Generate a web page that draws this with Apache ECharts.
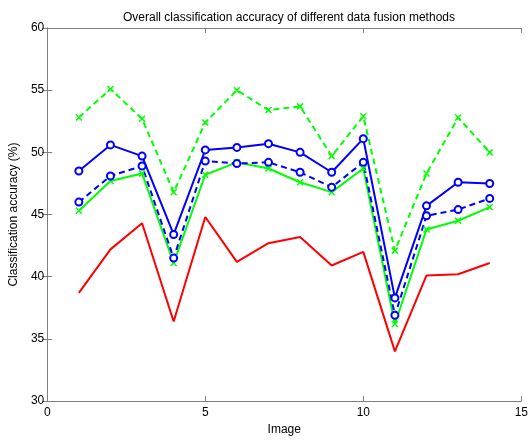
<!DOCTYPE html>
<html>
<head>
<meta charset="utf-8">
<script src="https://cdn.jsdelivr.net/npm/echarts@6/dist/echarts.min.js"></script>
<style>
  html, body { margin: 0; padding: 0; background: #fff; }
  #chart { width: 531px; height: 441px; }
</style>
</head>
<body>
<div id="chart"></div>
<script>
var images = [1, 2, 3, 4, 5, 6, 7, 8, 9, 10, 11, 12, 13, 14];
var greenDashed = [52.8, 55.1, 52.7, 46.8, 52.4, 55.0, 53.4, 53.7, 49.7, 52.9, 42.1, 48.3, 52.8, 50.0];
var blueSolid = [48.5, 50.6, 49.7, 43.4, 50.2, 50.4, 50.7, 50.0, 48.4, 51.1, 38.3, 45.7, 47.6, 47.5];
var blueDashed = [46.0, 48.1, 48.9, 41.5, 49.3, 49.1, 49.2, 48.4, 47.2, 49.2, 36.9, 44.9, 45.4, 46.3];
var greenSolid = [45.3, 47.7, 48.3, 41.1, 48.2, 49.2, 48.7, 47.6, 46.8, 48.7, 36.2, 43.8, 44.5, 45.6];
var redSolid = [38.7, 42.2, 44.3, 36.4, 44.8, 41.2, 42.7, 43.2, 40.9, 42.0, 34.0, 40.1, 40.2, 41.1];

function pairs(vals) {
  return vals.map(function (v, i) { return [images[i], v]; });
}

var cross = 'path://M0,0L10,10M10,0L0,10';
var font = 'Liberation Sans';

function mkSeries(vals, color, dashed, marker) {
  var s = {
    type: 'line',
    data: pairs(vals),
    lineStyle: { color: color, width: 2, type: dashed ? [6, 4] : 'solid' },
    symbol: 'none',
    z: 2
  };
  if (marker === 'x') {
    s.symbol = cross;
    s.symbolSize = 6;
    s.itemStyle = { color: 'transparent', borderColor: color, borderWidth: 1.5 };
  } else if (marker === 'o') {
    s.symbol = 'emptyCircle';
    s.symbolSize = 7;
    s.itemStyle = { color: color, borderColor: color, borderWidth: 2 };
  }
  return s;
}

var myChart = echarts.init(document.getElementById('chart'));
var axisColor = '#808080';
var option = {
  animation: false,
  backgroundColor: '#fff',
  title: {
    text: 'Overall classification accuracy of different data fusion methods',
    left: 284,
    top: 7,
    textAlign: 'center',
    textStyle: { fontFamily: font, fontSize: 12, fontWeight: 'normal', color: '#000' }
  },
  grid: { left: 44, right: 8, top: 28, bottom: 34 },
  xAxis: [{
    type: 'value', min: 0, max: 15, interval: 5,
    name: 'Image', nameLocation: 'middle', nameGap: 22,
    nameTextStyle: { fontFamily: font, fontSize: 12, color: '#000' },
    axisLine: { lineStyle: { color: axisColor, width: 1 } },
    axisTick: { inside: true, length: 5, lineStyle: { color: axisColor } },
    axisLabel: { fontFamily: font, fontSize: 12, color: '#000', margin: 6 },
    splitLine: { show: false }
  }, {
    type: 'value', min: 0, max: 15, interval: 5, position: 'top',
    axisLine: { lineStyle: { color: axisColor, width: 1 } },
    axisTick: { inside: true, length: 5, lineStyle: { color: axisColor } },
    axisLabel: { show: false },
    splitLine: { show: false }
  }],
  yAxis: [{
    type: 'value', min: 30, max: 60, interval: 5,
    name: 'Classification accuracy (%)', nameLocation: 'middle', nameGap: 23,
    nameTextStyle: { fontFamily: font, fontSize: 12, color: '#000' },
    axisLine: { show: true, lineStyle: { color: axisColor, width: 1 } },
    axisTick: { show: true, inside: true, length: 5, lineStyle: { color: axisColor } },
    axisLabel: { fontFamily: font, fontSize: 12, color: '#000', margin: 3 },
    splitLine: { show: false }
  }, {
    type: 'value', min: 30, max: 60, interval: 5, position: 'right',
    axisLine: { show: true, lineStyle: { color: axisColor, width: 1 } },
    axisTick: { show: true, inside: true, length: 5, lineStyle: { color: axisColor } },
    axisLabel: { show: false },
    splitLine: { show: false }
  }],
  series: [
    mkSeries(redSolid, '#ff0000', false, 'none'),
    mkSeries(greenSolid, '#00ff00', false, 'x'),
    mkSeries(blueDashed, '#0000ff', true, 'o'),
    mkSeries(blueSolid, '#0000ff', false, 'o'),
    mkSeries(greenDashed, '#00ff00', true, 'x')
  ]
};
myChart.setOption(option);
</script>
</body>
</html>
